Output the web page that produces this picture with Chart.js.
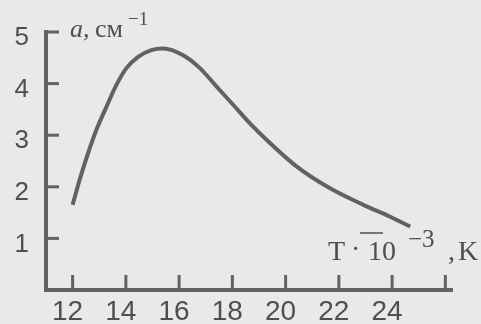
<!DOCTYPE html>
<html lang="ru">
<head>
<meta charset="UTF-8" />
<title>a(T)</title>
<script src="https://cdn.jsdelivr.net/npm/chart.js@4.4.1/dist/chart.umd.min.js"></script>
<style>
  html, body { margin: 0; padding: 0; background: #e9e9e9; }
  div.main { width: 481px; height: 324px; }
</style>
</head>
<body>
<div class="main"><canvas id="myChart" width="481" height="324"></canvas></div>
<script>
// values
const temps  = [12.0, 12.26, 12.58, 12.89, 13.27, 13.64, 14.02, 14.46, 14.96, 15.4, 16.15, 16.78, 17.41, 18.03, 18.66, 19.41, 20.42, 21.67, 22.92, 23.93, 24.68];
const absorb = [1.65, 2.13, 2.65, 3.10, 3.55, 3.97, 4.30, 4.52, 4.65, 4.68, 4.55, 4.30, 3.94, 3.59, 3.23, 2.85, 2.39, 1.97, 1.65, 1.42, 1.23];

const xTicks  = [12, 14, 16, 18, 20, 22, 24, 26];
const xLabels = ["12", "14", "16", "18", "20", "22", "24", ""];
const yTicks  = [1, 2, 3, 4, 5];

const ink = "#626262";
const textInk = "#4f4f4f";

// short tick marks pointing into the plot, like the original
const axisTicks = {
    id: "axisTicks",
    afterDraw(chart) {
        const { ctx, chartArea, scales } = chart;
        ctx.save();
        ctx.strokeStyle = ink;
        ctx.lineWidth = 3;
        yTicks.forEach((v) => {
            const py = scales.y.getPixelForValue(v);
            ctx.beginPath();
            ctx.moveTo(chartArea.left, py);
            ctx.lineTo(chartArea.left + 13, py);
            ctx.stroke();
        });
        xTicks.forEach((v) => {
            const px = scales.x.getPixelForValue(v);
            ctx.beginPath();
            ctx.moveTo(px, chartArea.bottom);
            ctx.lineTo(px, chartArea.bottom - 15);
            ctx.stroke();
        });
        ctx.restore();
    },
};

// axis captions
const axisTitles = {
    id: "axisTitles",
    afterDraw(chart) {
        const { ctx, chartArea } = chart;
        const l = chartArea.left;
        ctx.save();
        ctx.fillStyle = textInk;
        ctx.textBaseline = "alphabetic";

        // a, см^-1
        ctx.font = "italic 26px 'Liberation Serif'";
        ctx.fillText("a,", l + 24, 37);
        ctx.font = "26px 'Liberation Serif'";
        ctx.fillText("см", l + 49, 37);
        ctx.font = "19px 'Liberation Serif'";
        ctx.fillText("−1", l + 82, 25);

        // T · 10^-3 , K
        ctx.font = "28px 'Liberation Serif'";
        ctx.fillText("T", l + 282, 260);
        ctx.fillText("·", l + 305, 258);
        ctx.fillText("10", l + 322, 260);
        ctx.lineWidth = 1.5;
        ctx.strokeStyle = textInk;
        ctx.beginPath();
        ctx.moveTo(l + 314, 233);
        ctx.lineTo(l + 337, 233);
        ctx.stroke();
        ctx.font = "25px 'Liberation Serif'";
        ctx.fillText("−3", l + 362, 247);
        ctx.font = "28px 'Liberation Serif'";
        ctx.fillText(",", l + 402, 260);
        ctx.fillText("K", l + 412, 260);
        ctx.restore();
    },
};

const points = temps.map((t, i) => ({ x: t, y: absorb[i] }));

new Chart(document.getElementById("myChart"), {
    type: "scatter",
    data: {
        datasets: [
            {
                data: points,
                showLine: true,
                borderColor: ink,
                borderWidth: 4,
                pointRadius: 0,
                cubicInterpolationMode: "monotone",
                fill: false,
            },
        ],
    },
    options: {
        responsive: false,
        devicePixelRatio: 1,
        animation: false,
        layout: { padding: { left: 0, right: 29, top: 32, bottom: 0 } },
        plugins: { legend: { display: false }, tooltip: { enabled: false } },
        scales: {
            x: {
                type: "linear",
                min: 11,
                max: 26.25,
                afterBuildTicks: (s) => { s.ticks = xTicks.map((v) => ({ value: v })); },
                afterFit: (s) => { s.height = 34; s.paddingLeft = 0; s.paddingRight = 0; },
                ticks: {
                    callback: (v, i) => xLabels[i],
                    font: { family: "'Liberation Sans'", size: 28, lineHeight: 1 },
                    color: textInk,
                    padding: 8,
                    labelOffset: -5,
                    maxRotation: 0,
                    autoSkip: false,
                },
                grid: { display: false, drawTicks: false },
                border: { display: true, color: ink, width: 4 },
            },
            y: {
                type: "linear",
                min: 0,
                max: 5,
                afterBuildTicks: (s) => { s.ticks = yTicks.map((v) => ({ value: v })); },
                afterFit: (s) => { s.width = 46; s.paddingTop = 0; s.paddingBottom = 0; },
                ticks: {
                    font: { family: "'Liberation Sans'", size: 26, lineHeight: 1 },
                    color: textInk,
                    padding: 17,
                    labelOffset: 6,
                    autoSkip: false,
                },
                grid: { display: false, drawTicks: false },
                border: { display: true, color: ink, width: 4 },
            },
        },
    },
    plugins: [axisTicks, axisTitles],
});
</script>
</body>
</html>
